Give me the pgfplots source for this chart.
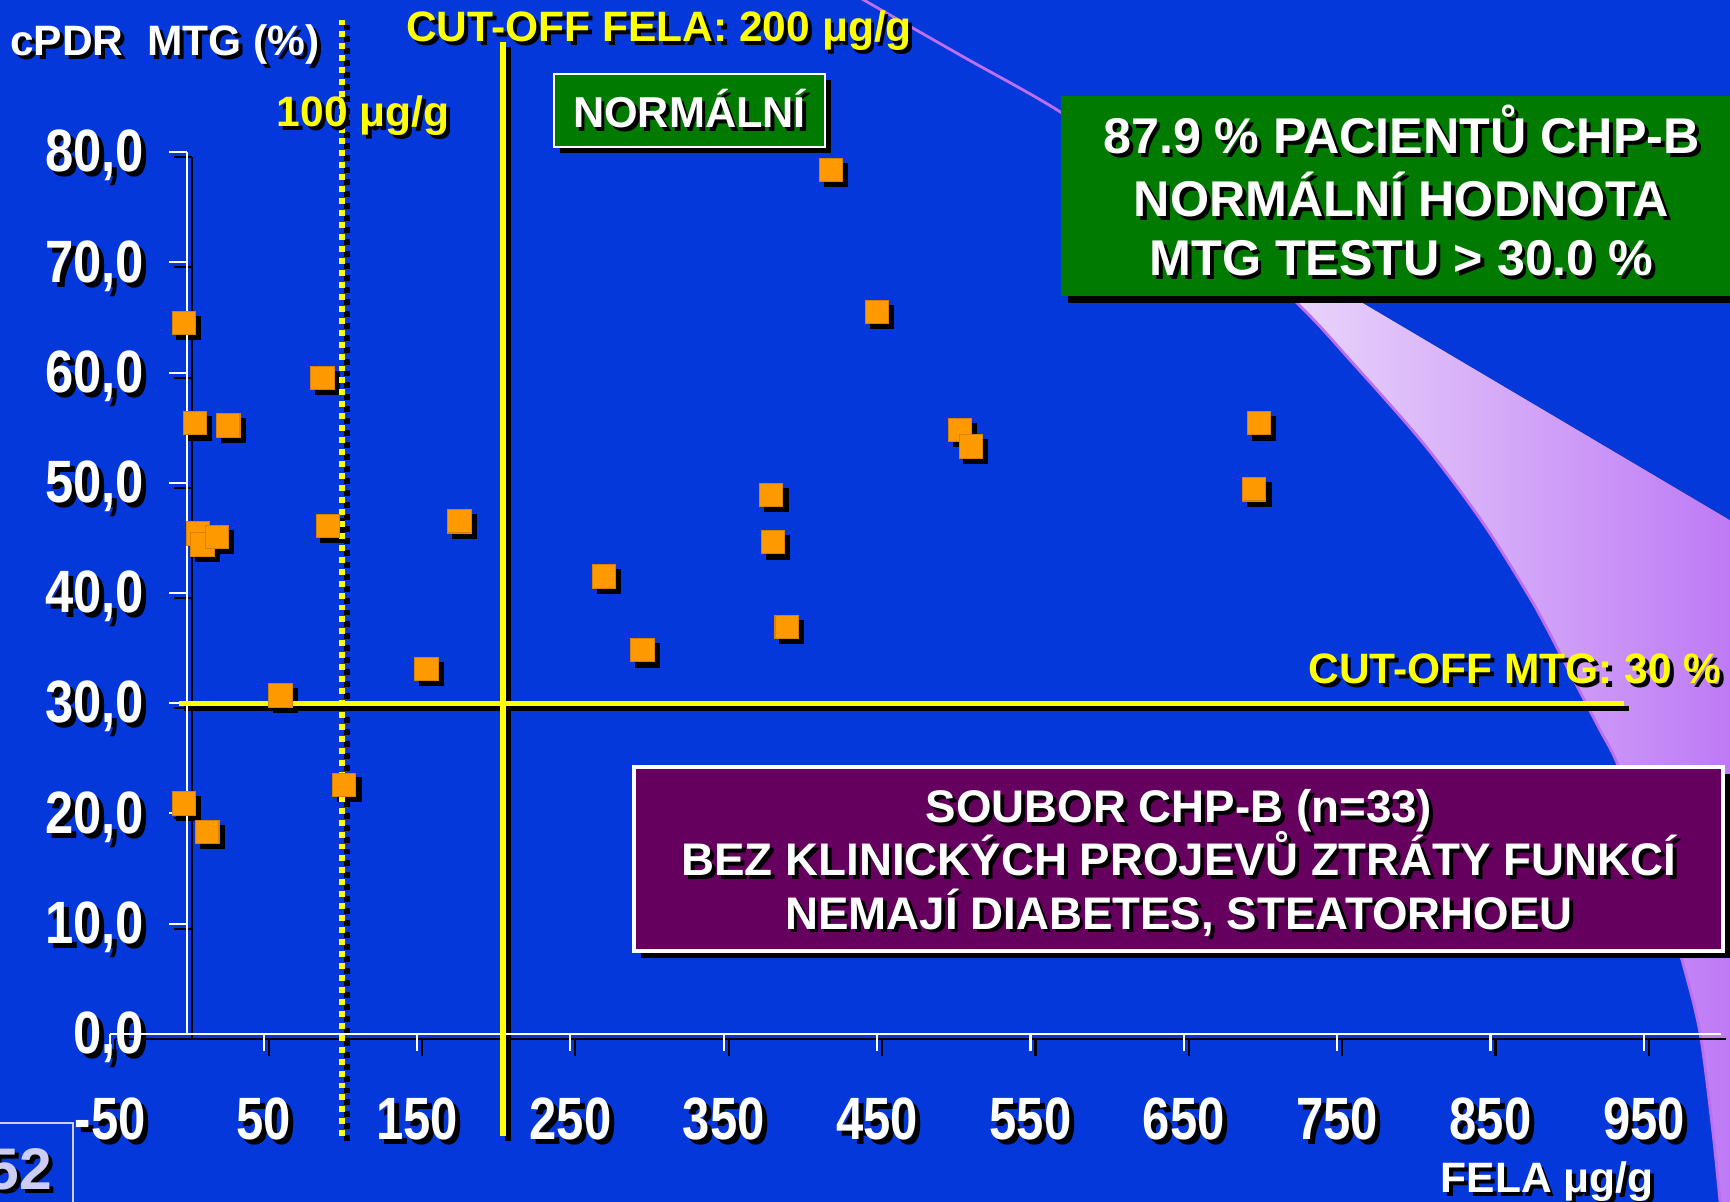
\documentclass[border=0pt]{standalone}
\usepackage{fontspec}
\setmainfont{Liberation Sans}
\newfontfamily\narrowx{Liberation Sans}[FakeStretch=0.82]
\newfontfamily\narrowy{Liberation Sans}[FakeStretch=0.85]
\usepackage{pgfplots}
\usepackage{pgfplotstable}
\pgfplotsset{compat=1.18}

\definecolor{bg}{RGB}{5,56,219}
\definecolor{boxgreen}{RGB}{0,122,0}
\definecolor{boxpurple}{RGB}{102,0,94}
\definecolor{sq}{RGB}{255,153,0}
\definecolor{yel}{RGB}{255,255,0}
\definecolor{lav}{RGB}{188,118,245}
\definecolor{lavlight}{RGB}{244,236,252}
\definecolor{curveline}{RGB}{190,110,240}
\definecolor{pale}{RGB}{205,205,245}

\newcommand{\sh}[2][white]{\makebox[0pt][l]{\textcolor{black}{\kern1.1pt\raisebox{-1.1pt}{#2}}}\textcolor{#1}{#2}}

\pgfplotstableread{
x y
-2.2 64.5
5.3 55.4
27 55.2
88.4 59.5
91.7 46.1
7 45.4
10.1 44.4
19.4 45.1
61 30.7
-2.2 20.9
13.3 18.3
102.6 22.6
156.2 33.1
177.7 46.5
272 41.5
297 34.8
381 48.9
382 44.6
391 36.9
420 78.4
450 65.5
504 54.8
511 53.3
699 55.4
696 49.4
}\pts

\pgfplotsset{
  base/.style={
    x=0.01534cm, y=0.1102cm,
    xmin=-50, xmax=1000, ymin=0, ymax=80,
    axis lines=middle,
    hide obscured x ticks=false, hide obscured y ticks=false,
    clip=false,
    xtick={-50,50,150,250,350,450,550,650,750,850,950},
    ytick={0,10,20,30,40,50,60,70,80},
    xticklabels={-50,50,150,250,350,450,550,650,750,850,950},
    yticklabels={{0,0},{10,0},{20,0},{30,0},{40,0},{50,0},{60,0},{70,0},{80,0}},
    tick align=outside, major tick length=5pt,
    ticklabel style={inner sep=0pt},
    xticklabel style={font=\narrowx\bfseries\fontsize{17}{20}\selectfont, anchor=north, yshift=-13pt},
    yticklabel style={font=\narrowy\bfseries\fontsize{17}{20}\selectfont, anchor=east, xshift=-7pt, yshift=-1pt},
    anchor=origin,
  }
}

\begin{document}
\begin{tikzpicture}
% background
\fill[bg] (-0.2,-0.2) rectangle (17.5,12.2);
% decorative crescent
\fill[left color=lavlight, right color=lav]
  plot[smooth] coordinates {(11.80,10.06) (12.97,8.98) (13.50,8.41) (14.23,7.58) (14.83,6.78) (15.33,5.98) (15.67,5.34) (16.00,4.71) (16.17,4.38) (16.50,3.51) (16.82,2.41) (17.00,1.68) (17.13,0.68) (17.20,0.00) (17.22,-0.14)}
  -- (17.5,-0.14) -- (17.5,6.69) -- cycle;
\draw[curveline, line width=0.8pt]
  plot[smooth] coordinates {(8.55,12.06) (9.60,11.46) (10.62,10.88) (11.80,10.06) (12.97,8.98) (13.50,8.41) (14.23,7.58) (14.83,6.78) (15.33,5.98) (15.67,5.34) (16.00,4.71) (16.17,4.38) (16.50,3.51) (16.82,2.41) (17.00,1.68) (17.13,0.68) (17.20,0.00) (17.22,-0.14)};

% shadow axis
\begin{axis}[base, at={(1.92cm,1.622cm)},
  axis line style={-, black, line width=0.6pt},
  every tick/.style={black, line width=0.6pt},
  ticklabel style={text=black}]
\addplot[black, line width=1.5pt, forget plot] coordinates {(-5,30) (937,30)};
\addplot[black, line width=1.8pt, forget plot] coordinates {(206,-9.3) (206,90)};
\addplot[only marks, mark=square*, mark size=3.3pt, mark options={fill=black, draw=black}] table {\pts};
\addplot[black, line width=1.5pt, dash pattern=on 1.7pt off 1.7pt, forget plot] coordinates {(101,-9.3) (101,92)};
\end{axis}

% main axis
\begin{axis}[base, at={(1.87cm,1.672cm)},
  axis line style={-, white, line width=0.6pt},
  every tick/.style={white, line width=0.6pt},
  ticklabel style={text=white}]
\addplot[yel, line width=1.5pt, forget plot] coordinates {(-5,30) (937,30)};
\addplot[yel, line width=1.8pt, forget plot] coordinates {(206,-9.3) (206,90)};
\addplot[only marks, mark=square*, mark size=3.3pt, mark options={fill=sq, draw=sq!85!black, line width=0.3pt}] table {\pts};
\addplot[yel, line width=1.5pt, dash pattern=on 1.7pt off 1.7pt, forget plot] coordinates {(101,-9.3) (101,92)};
\end{axis}

% texts
\node[font=\bfseries\fontsize{12.1}{15}\selectfont] at (1.65,11.545) {\sh{cPDR\ \ MTG (\%)}};
\node[font=\bfseries\fontsize{12.1}{15}\selectfont] at (6.59,11.68) {\sh[yel]{CUT-OFF FELA: 200 μg/g}};
\node[font=\bfseries\fontsize{12.1}{15}\selectfont] at (3.63,10.83) {\sh[yel]{100 μg/g}};
\node[font=\bfseries\fontsize{12.1}{15}\selectfont] at (15.15,5.30) {\sh[yel]{CUT-OFF MTG: 30 \%}};
\node[font=\bfseries\fontsize{12.1}{15}\selectfont] at (15.47,0.17) {\sh{FELA μg/g}};

% NORMALNI box
\fill[black] (5.60,10.48) rectangle (8.31,11.21);
\filldraw[fill=boxgreen, draw=white, line width=0.7pt] (5.54,10.54) rectangle (8.25,11.27);
\node[font=\bfseries\fontsize{12.3}{15}\selectfont] at (6.895,10.905) {\sh{NORMÁLNÍ}};

% big green box
\fill[black] (10.68,8.98) rectangle (17.5,10.98);
\fill[boxgreen] (10.61,9.05) rectangle (17.5,11.05);
\begin{scope}[every node/.style={font=\bfseries\fontsize{14.3}{17.2}\selectfont, anchor=base}]
\node at (14.015,10.47) {\sh{87.9 \% PACIENTŮ CHP-B}};
\node at (14.015,9.845) {\sh{NORMÁLNÍ HODNOTA}};
\node at (14.015,9.25) {\sh{MTG TESTU > 30.0 \%}};
\end{scope}

% purple box
\fill[black] (6.41,2.43) rectangle (17.30,4.27);
\filldraw[fill=boxpurple, draw=white, line width=0.9pt] (6.34,2.50) rectangle (17.23,4.34);
\begin{scope}[every node/.style={font=\bfseries\fontsize{13}{15}\selectfont, anchor=base}]
\node at (11.79,3.78) {\sh{SOUBOR CHP-B (n=33)}};
\node at (11.79,3.25) {\sh{BEZ KLINICKÝCH PROJEVŮ ZTRÁTY FUNKCÍ}};
\node at (11.79,2.72) {\sh{NEMAJÍ DIABETES, STEATORHOEU}};
\end{scope}

% page number box
\draw[pale, line width=0.8pt] (-0.1,0.78) -- (0.73,0.78) -- (0.73,-0.1);
\node[font=\bfseries\fontsize{16.7}{20}\selectfont] at (0.195,0.30) {\sh[pale]{52}};

\pgfresetboundingbox
\useasboundingbox (0,0) rectangle (17.30,12.01);
\end{tikzpicture}
\end{document}
